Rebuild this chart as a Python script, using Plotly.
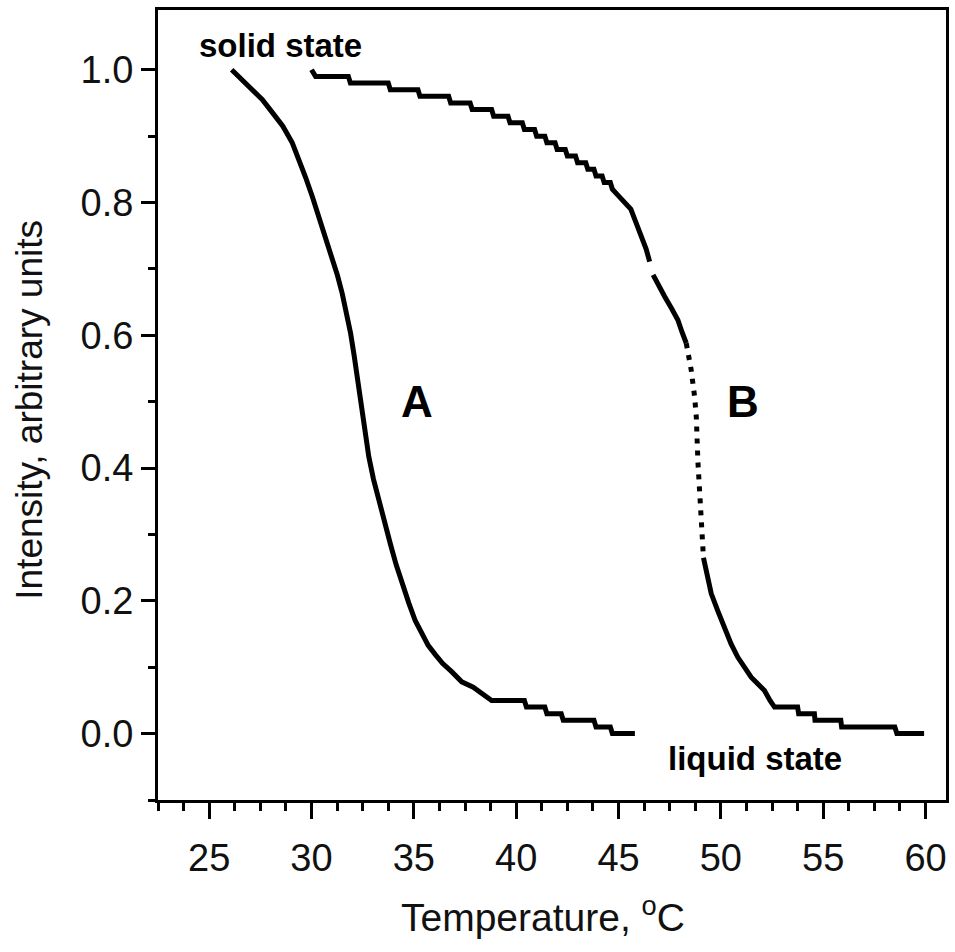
import plotly.graph_objects as go

# Curve A: melting profile, temperature (°C) vs normalised intensity
temp_a = [26.1, 26.6, 27.1, 27.6, 28.1, 28.6, 29.06, 29.4, 29.71, 30.05, 30.36, 30.7,
          31.01, 31.27, 31.5, 31.72, 31.91, 32.08, 32.23, 32.35, 32.5, 32.65, 32.8,
          33.03, 33.28, 33.56, 33.85, 34.13, 34.42, 34.75, 35.07, 35.39, 35.7, 36.05,
          36.4, 36.86, 37.34, 37.9, 38.4, 38.8, 40.4, 40.5, 41.4, 41.5, 42.2, 42.3,
          43.8, 43.9, 44.6, 44.7, 45.8]
int_a = [1.0, 0.985, 0.97, 0.955, 0.935, 0.915, 0.89, 0.865, 0.838, 0.808, 0.779, 0.748,
         0.718, 0.69, 0.663, 0.632, 0.603, 0.57, 0.537, 0.51, 0.48, 0.447, 0.417,
         0.383, 0.351, 0.318, 0.286, 0.255, 0.226, 0.197, 0.17, 0.15, 0.133, 0.119,
         0.106, 0.093, 0.078, 0.07, 0.06, 0.05, 0.05, 0.04, 0.04, 0.03, 0.03, 0.02,
         0.02, 0.01, 0.01, 0.0, 0.0]

# Curve B: solid-state plateau and shoulder (None marks a gap in the record)
temp_b1 = [30.0, 30.2, 31.8, 31.9, 33.75, 33.85, 35.2, 35.3, 36.7, 36.8, 37.75, 37.85,
           38.8, 38.9, 39.6, 39.7, 40.3, 40.4, 40.9, 41.0, 41.4, 41.5, 41.9, 42.0,
           42.4, 42.5, 42.9, 43.0, 43.4, 43.5, 43.8, 43.9, 44.2, 44.3, 44.6, 44.7,
           45.0, 45.3, 45.6, 45.85, 46.12, 46.35, 46.52, None, 46.69, 47.0, 47.26,
           47.6, 47.9, 48.1, 48.31]
int_b1 = [1.0, 0.99, 0.99, 0.98, 0.98, 0.97, 0.97, 0.96, 0.96, 0.95, 0.95, 0.94,
          0.94, 0.93, 0.93, 0.92, 0.92, 0.91, 0.91, 0.9, 0.9, 0.89, 0.89, 0.88,
          0.88, 0.87, 0.87, 0.86, 0.86, 0.85, 0.85, 0.84, 0.84, 0.83, 0.83, 0.82,
          0.81, 0.8, 0.79, 0.77, 0.749, 0.73, 0.711, None, 0.691, 0.675, 0.658,
          0.64, 0.623, 0.605, 0.588]

# Curve B: steep melting region (sparse points)
temp_b2 = [48.31, 48.45, 48.55, 48.72, 48.8, 48.88, 48.96, 49.04, 49.15]
int_b2 = [0.588, 0.565, 0.548, 0.507, 0.477, 0.409, 0.356, 0.306, 0.265]

# Curve B: liquid-state tail
temp_b3 = [49.15, 49.3, 49.53, 49.85, 50.18, 50.5, 50.83, 51.15, 51.48, 51.8, 52.13,
           52.4, 52.62, 53.75, 53.8, 54.57, 54.6, 55.86, 55.9, 58.5, 58.6, 59.93]
int_b3 = [0.265, 0.24, 0.211, 0.185, 0.16, 0.135, 0.115, 0.1, 0.085, 0.075, 0.065,
          0.05, 0.04, 0.04, 0.03, 0.03, 0.02, 0.02, 0.01, 0.01, 0.0, 0.0]

x_tickvals = [25, 30, 35, 40, 45, 50, 55, 60]
y_tickvals = [0.0, 0.2, 0.4, 0.6, 0.8, 1.0]
y_ticktext = ["0.0", "0.2", "0.4", "0.6", "0.8", "1.0"]

INK = "#000000"
FONT = "Liberation Sans, Arial, sans-serif"

fig = go.Figure()
line_style = dict(color=INK, width=5)
fig.add_trace(go.Scatter(x=temp_a, y=int_a, mode="lines", line=line_style,
                         connectgaps=False, hoverinfo="skip"))
fig.add_trace(go.Scatter(x=temp_b1, y=int_b1, mode="lines", line=line_style,
                         connectgaps=False, hoverinfo="skip"))
fig.add_trace(go.Scatter(x=temp_b2, y=int_b2, mode="lines",
                         line=dict(color=INK, width=5, dash="5px,7px"),
                         hoverinfo="skip"))
fig.add_trace(go.Scatter(x=temp_b3, y=int_b3, mode="lines", line=line_style,
                         hoverinfo="skip"))

label_font = dict(family=FONT, size=33, color=INK)
fig.add_annotation(x=28.5, y=1.036, text="<b>solid state</b>", showarrow=False,
                   font=label_font, xanchor="center", yanchor="middle")
fig.add_annotation(x=51.65, y=-0.038, text="<b>liquid state</b>", showarrow=False,
                   font=label_font, xanchor="center", yanchor="middle")
curve_font = dict(family=FONT, size=44, color=INK)
fig.add_annotation(x=35.14, y=0.5, text="<b>A</b>", showarrow=False,
                   font=curve_font, xanchor="center", yanchor="middle")
fig.add_annotation(x=51.07, y=0.5, text="<b>B</b>", showarrow=False,
                   font=curve_font, xanchor="center", yanchor="middle")

title_font = dict(family=FONT, size=39, color="#111111")
fig.add_annotation(xref="paper", yref="paper", x=0.489, y=0, yshift=-114,
                   text="Temperature, <sup>o</sup>C", showarrow=False,
                   font=title_font, xanchor="center", yanchor="middle")
fig.add_annotation(xref="paper", yref="paper", x=0, xshift=-128, y=0.494,
                   text="Intensity, arbitrary units", showarrow=False, textangle=-90,
                   font=dict(family=FONT, size=37, color="#111111"),
                   xanchor="center", yanchor="middle")

tick_font = dict(family=FONT, size=38, color="#111111")
fig.update_xaxes(range=[22.5, 61.0], tickmode="array", tickvals=x_tickvals,
                 ticks="outside", ticklen=16, tickwidth=3, tickcolor=INK,
                 ticklabelstandoff=6,
                 minor=dict(dtick=1.25, tick0=22.5, ticks="outside", ticklen=8,
                            tickwidth=3, tickcolor=INK, showgrid=False),
                 showline=True, linewidth=3, linecolor=INK, mirror=True,
                 showgrid=False, zeroline=False, tickfont=tick_font)
fig.update_yaxes(range=[-0.1, 1.09], tickmode="array", tickvals=y_tickvals,
                 ticktext=y_ticktext,
                 ticks="outside", ticklen=14, tickwidth=3, tickcolor=INK,
                 minor=dict(dtick=0.1, tick0=0, ticks="outside", ticklen=7,
                            tickwidth=3, tickcolor=INK, showgrid=False),
                 showline=True, linewidth=3, linecolor=INK, mirror=True,
                 showgrid=False, zeroline=False, tickfont=tick_font)

fig.update_layout(width=955, height=952, showlegend=False,
                  margin=dict(l=158, r=6, t=10, b=152),
                  plot_bgcolor="white", paper_bgcolor="white")

fig.write_html("out.html")
